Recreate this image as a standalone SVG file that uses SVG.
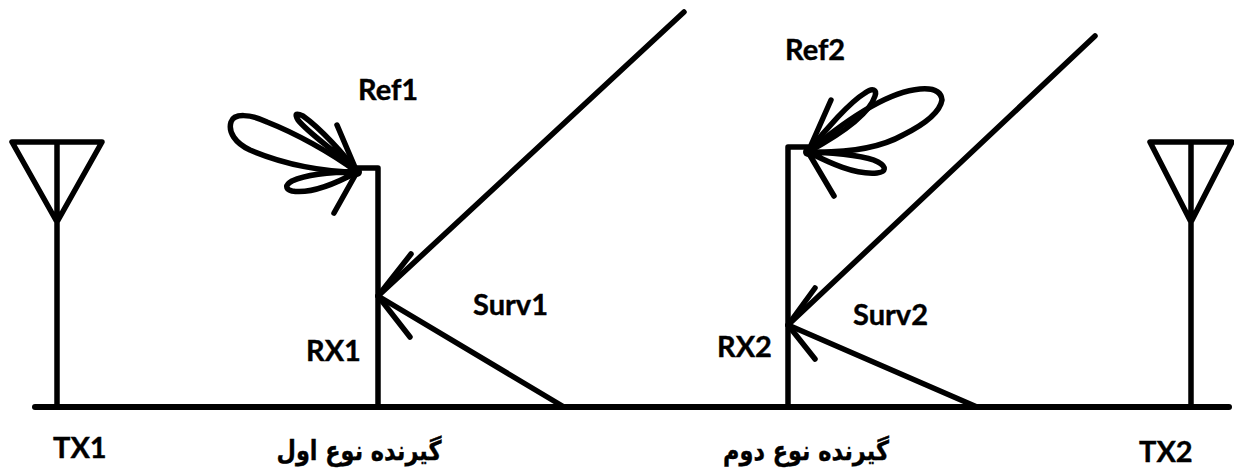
<svg xmlns="http://www.w3.org/2000/svg" width="1234" height="472" viewBox="0 0 1234 472">
<style>
.l{fill:none;stroke:#000;stroke-width:5.5;stroke-linecap:round;stroke-linejoin:round}
.h{fill:#000}
text{font-family:Lato,"Open Sans","Liberation Sans",sans-serif;font-weight:700;font-size:29px;fill:#000;stroke:#000;stroke-width:.4}
.fa{font-family:"DejaVu Sans","Noto Sans",sans-serif;font-size:27px}
</style>
<rect width="1234" height="472" fill="#fff"/>
<g id="connectors">
<path class="l" style="stroke-width:6" d="M35 407H1229"/>
<path class="l" d="M378 296L684 12"/>
<path class="l" d="M378 296L564 407"/>
<path class="l" d="M788 325L1095 36"/>
<path class="l" d="M788 325L977 407"/>
<path class="l" d="M411 254L378 296L410 337"/>
<path class="l" d="M815 288L788 325L815 359"/>
</g>
<g id="tx1"><path class="l" d="M57 407V222M57 222L12 142H102ZM57 142V222"/><text x="53" y="458">TX1</text></g>
<g id="tx2"><path class="l" d="M1191 407V222M1191 222L1150 142H1232ZM1191 142V222"/><text x="1139" y="462">TX2</text></g>
<g id="rx1"><path class="l" d="M378 407V168H357"/><text x="306" y="361">RX1</text></g>
<g id="rx2"><path class="l" d="M788 407V147H808"/><text x="717" y="357">RX2</text></g>
<g id="ref1">
<path class="l" d="M357 172C325 172 285 165 250 150C235 143 228 132 231 122C234 113 250 114 267 122C295 133 330 152 357 172"/>
<path class="l" d="M357 172C335 150 310 135 298 120C294 113 297 113 303 116C320 128 345 155 357 172"/>
<path class="l" d="M357 172C330 172 305 175 292 181C285 185 285 189 292 191C310 194 335 184 357 172"/>
<path class="l" d="M337 125L357 172L334 213"/>
<circle class="h" cx="357" cy="172" r="5"/>
<text x="358" y="100">Ref1</text></g>
<g id="ref2">
<path class="l" d="M808 152C845 153 880 148 903 135C925 124 940 112 942 100C941 90 932 88 920 89C885 92 840 125 808 152"/>
<path class="l" d="M808 152C825 130 850 102 865 93C873 87 877 90 875 96C870 112 845 132 808 152"/>
<path class="l" d="M808 152C835 153 865 155 878 162C887 167 886 172 877 173C855 175 830 163 808 152"/>
<path class="l" d="M831 100L808 152L834 196"/>
<circle class="h" cx="808" cy="152" r="5"/>
<text x="785" y="60">Ref2</text></g>
<g id="surv1"><text x="473" y="315">Surv1</text></g>
<g id="surv2"><text x="853" y="325">Surv2</text></g>
<g id="label1"><text class="fa" transform="translate(359 460) scale(.83 1)" text-anchor="middle" direction="rtl">گیرنده نوع اول</text></g>
<g id="label2"><text class="fa" transform="translate(806 460) scale(.83 1)" text-anchor="middle" direction="rtl">گیرنده نوع دوم</text></g>
</svg>
